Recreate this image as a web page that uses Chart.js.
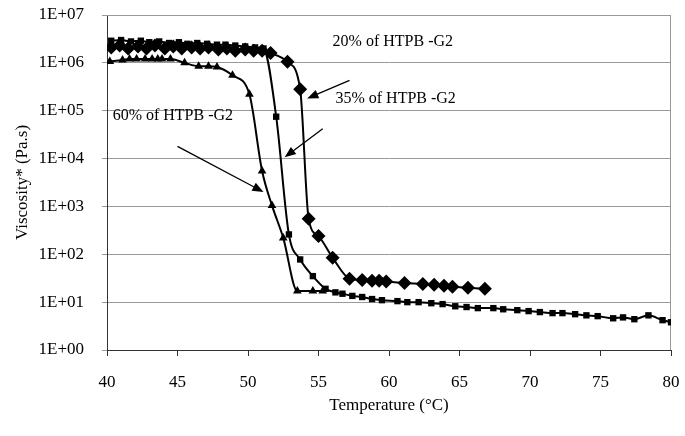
<!DOCTYPE html>
<html>
<head>
<meta charset="utf-8">
<script src="https://cdn.jsdelivr.net/npm/chart.js@4.4.1/dist/chart.umd.min.js"></script>
<style>
  html, body { margin: 0; padding: 0; background: #fff; }
  #wrap { width: 685px; height: 436px; }
</style>
</head>
<body>
<div id="wrap"><canvas id="viscChart" width="685" height="436"></canvas></div>
<script>
// Temperature (°C) and complex viscosity (Pa.s) for each blend
const temps20 = [40.3, 40.9, 41.5, 42.2, 42.8, 43.4, 44.1, 44.7, 45.3, 46.0, 46.6, 47.2, 47.9, 48.5, 49.1, 49.8, 50.4, 51.0, 51.6, 52.8, 53.7, 54.3, 55.0, 56.0, 57.2, 58.1, 58.8, 59.3, 59.8, 61.1, 62.4, 63.2, 63.9, 64.5, 65.6, 66.8];
const visc20 = [2.1e6, 2.3e6, 2.0e6, 2.2e6, 2.0e6, 2.3e6, 2.0e6, 2.2e6, 2.0e6, 2.1e6, 2.0e6, 2.1e6, 1.9e6, 2.0e6, 1.8e6, 1.9e6, 1.8e6, 1.8e6, 1.6e6, 1.05e6, 2.8e5, 5.5e2, 2.4e2, 85, 31, 29, 28, 28, 27, 25, 24, 23, 22, 21, 20, 19];

const temps35 = [40.3, 41.0, 41.7, 42.4, 43.0, 43.7, 44.4, 45.1, 45.7, 46.4, 47.1, 47.8, 48.4, 49.1, 49.8, 50.5, 51.1, 52.0, 52.9, 53.7, 54.6, 55.5, 56.2, 56.7, 57.4, 58.1, 58.8, 59.5, 60.6, 61.3, 62.1, 63.0, 63.8, 64.7, 65.5, 66.3, 67.4, 68.1, 69.1, 69.9, 70.7, 71.6, 72.3, 73.2, 74.0, 74.8, 75.9, 76.6, 77.4, 78.4, 79.4, 80.0];
const visc35 = [2.9e6, 3.0e6, 2.8e6, 2.9e6, 2.7e6, 2.8e6, 2.6e6, 2.7e6, 2.5e6, 2.6e6, 2.5e6, 2.4e6, 2.4e6, 2.3e6, 2.2e6, 2.1e6, 2.0e6, 7.5e4, 2.6e2, 78, 35, 19, 16, 15, 13.5, 12.8, 11.6, 11, 10.5, 10, 10, 9.5, 9.1, 8.2, 7.9, 7.5, 7.5, 7.1, 6.8, 6.5, 6.2, 5.9, 5.9, 5.6, 5.3, 5.1, 4.6, 4.8, 4.4, 5.3, 4.2, 3.8];

const temps60 = [40.2, 41.1, 41.6, 42.1, 42.7, 43.2, 43.6, 43.9, 44.5, 45.5, 46.5, 47.2, 47.8, 48.9, 50.1, 51.0, 51.7, 52.5, 53.5, 54.6, 55.3];
const visc60 = [1.07e6, 1.15e6, 1.2e6, 1.2e6, 1.2e6, 1.2e6, 1.2e6, 1.2e6, 1.2e6, 1.0e6, 8.5e5, 8.5e5, 8.2e5, 5.5e5, 2.2e5, 5.5e3, 1.05e3, 2.2e2, 17, 17, 17];

const decadeTicks = [1, 1e1, 1e2, 1e3, 1e4, 1e5, 1e6, 1e7];

// Text labels with arrows, in data coordinates
const notes = [
    { text: '20% of HTPB -G2', at: [56.0, 2.8e6], from: [57.2, 4.3e5], to: [54.2, 1.8e5] },
    { text: '35% of HTPB -G2', at: [56.2, 1.8e5], from: [55.3, 4.2e4], to: [52.6, 1.07e4] },
    { text: '60% of HTPB -G2', at: [40.4, 7.8e4], from: [45.0, 1.8e4], to: [51.1, 2.0e3] }
];

const FONT = "'Liberation Serif', 'Times New Roman', serif";

function toPoints(xs, ys) {
    return xs.map((x, i) => ({ x: x, y: ys[i] }));
}

function fmtExp(v) {
    const e = Math.round(Math.log10(v));
    return '1E+' + String(e).padStart(2, '0');
}

// Gray frame around the plot area (top and right sides)
const frame = {
    id: 'frame',
    beforeDatasetsDraw(chart) {
        const { ctx, chartArea: a } = chart;
        ctx.save();
        ctx.strokeStyle = '#999';
        ctx.lineWidth = 1;
        ctx.beginPath();
        ctx.moveTo(a.left, a.top + 0.5);
        ctx.lineTo(a.right - 0.5, a.top + 0.5);
        ctx.lineTo(a.right - 0.5, a.bottom);
        ctx.stroke();
        ctx.restore();
    }
};

// Arrows and text annotations
const arrows = {
    id: 'arrows',
    afterDatasetsDraw(chart) {
        const { ctx, scales: { x, y } } = chart;
        ctx.save();
        ctx.fillStyle = '#000';
        ctx.strokeStyle = '#000';
        ctx.font = '16px ' + FONT;
        ctx.textBaseline = 'middle';
        notes.forEach(n => {
            ctx.fillText(n.text, x.getPixelForValue(n.at[0]), y.getPixelForValue(n.at[1]));
            const x1 = x.getPixelForValue(n.from[0]), y1 = y.getPixelForValue(n.from[1]);
            const x2 = x.getPixelForValue(n.to[0]), y2 = y.getPixelForValue(n.to[1]);
            const ang = Math.atan2(y2 - y1, x2 - x1);
            const head = 12;
            ctx.lineWidth = 1.3;
            ctx.beginPath();
            ctx.moveTo(x1, y1);
            ctx.lineTo(x2 - head * 0.8 * Math.cos(ang), y2 - head * 0.8 * Math.sin(ang));
            ctx.stroke();
            ctx.beginPath();
            ctx.moveTo(x2, y2);
            ctx.lineTo(x2 - head * Math.cos(ang - 0.38), y2 - head * Math.sin(ang - 0.38));
            ctx.lineTo(x2 - head * Math.cos(ang + 0.38), y2 - head * Math.sin(ang + 0.38));
            ctx.closePath();
            ctx.fill();
        });
        ctx.restore();
    }
};

function series(label, xs, ys, style, radius) {
    return {
        label: label,
        data: toPoints(xs, ys),
        borderColor: '#000',
        backgroundColor: '#000',
        borderWidth: 2,
        pointStyle: style,
        pointRadius: radius,
        pointBorderWidth: 0,
        cubicInterpolationMode: 'monotone'
    };
}

new Chart(document.getElementById('viscChart'), {
    type: 'line',
    data: {
        datasets: [
            series('20% of HTPB -G2', temps20, visc20, 'rectRot', 7),
            series('35% of HTPB -G2', temps35, visc35, 'rect', 4.5),
            series('60% of HTPB -G2', temps60, visc60, 'triangle', 5)
        ]
    },
    options: {
        responsive: false,
        animation: false,
        layout: { padding: { left: 8, right: 14, top: 15, bottom: 20 } },
        plugins: {
            legend: { display: false },
            tooltip: { enabled: false }
        },
        scales: {
            x: {
                type: 'linear',
                min: 40,
                max: 80,
                afterFit(scale) {
                    scale.height = 66;
                    scale.paddingLeft = 0;
                    scale.paddingRight = 0;
                },
                ticks: { stepSize: 5, color: '#000', padding: 16, font: { family: FONT, size: 17 } },
                grid: { drawOnChartArea: false, drawTicks: true, tickLength: 6, color: '#333' },
                border: { color: '#333', width: 1 },
                title: {
                    display: true,
                    text: 'Temperature (°C)',
                    color: '#000',
                    padding: { top: 0, bottom: 0 },
                    font: { family: FONT, size: 17 }
                }
            },
            y: {
                type: 'logarithmic',
                min: 1,
                max: 1e7,
                afterFit(scale) {
                    scale.width = 99;
                    scale.paddingTop = 0;
                    scale.paddingBottom = 0;
                },
                afterBuildTicks(scale) {
                    scale.ticks = decadeTicks.map(v => ({ value: v }));
                },
                ticks: {
                    color: '#000',
                    padding: 18,
                    font: { family: FONT, size: 17 },
                    callback: v => fmtExp(v)
                },
                grid: { color: '#999', lineWidth: 1, tickLength: 5 },
                border: { color: '#333', width: 1 },
                title: {
                    display: true,
                    text: 'Viscosity* (Pa.s)',
                    color: '#000',
                    padding: { bottom: 6 },
                    font: { family: FONT, size: 17 }
                }
            }
        }
    },
    plugins: [frame, arrows]
});
</script>
</body>
</html>
